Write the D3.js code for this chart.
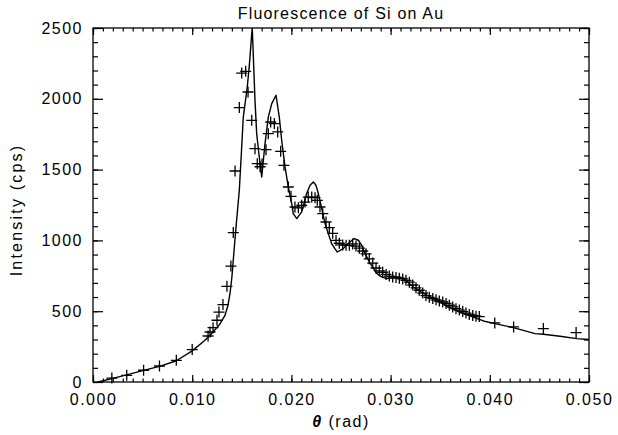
<!DOCTYPE html>
<html>
<head>
<meta charset="utf-8">
<script src="https://cdn.jsdelivr.net/npm/d3@7"></script>
<style>
body { margin: 0; background: #fff; }
text { font-family: "Liberation Sans", Arial, sans-serif; fill: #000; }
</style>
</head>
<body>
<div id="chart"></div>
<script>
// measured points (+ markers)
const thetaPts = [0.0019, 0.0034, 0.0051, 0.0067, 0.0084, 0.0100, 0.0116, 0.0118, 0.0121, 0.0125,
  0.0127, 0.0131, 0.0135, 0.0139, 0.01414, 0.01432, 0.01475, 0.01499, 0.01539, 0.01563,
  0.0160, 0.01633, 0.01656, 0.01684, 0.01704, 0.01744, 0.01767, 0.01791, 0.01828, 0.01862,
  0.01892, 0.01925, 0.01969, 0.01996, 0.02036, 0.0207, 0.02104, 0.02137, 0.0217, 0.02205,
  0.02238, 0.02261, 0.02288, 0.02316, 0.02349, 0.02382, 0.02416, 0.0245, 0.02483, 0.02517,
  0.02551, 0.02584, 0.02618, 0.02651, 0.02685, 0.02719, 0.02752, 0.02785, 0.0282, 0.02853,
  0.02886, 0.0292, 0.02954, 0.02987, 0.03021, 0.03055, 0.03088, 0.03122, 0.03155, 0.03189,
  0.03223, 0.03256, 0.03289, 0.03324, 0.03357, 0.0339, 0.03425, 0.03458, 0.03491, 0.03525,
  0.03559, 0.03592, 0.03626, 0.03659, 0.03693, 0.03727, 0.0376, 0.03793, 0.03828, 0.03861,
  0.03894, 0.0405, 0.0424, 0.0454, 0.0487];
const countsPts = [28, 47, 83, 113, 153, 229, 325, 353, 384, 436,
  494, 547, 676, 819, 1055, 1490, 1938, 2182, 2194, 2048,
  1848, 1648, 1542, 1520, 1540, 1641, 1754, 1836, 1825, 1766,
  1629, 1530, 1377, 1311, 1236, 1230, 1248, 1271, 1306, 1306,
  1302, 1283, 1236, 1189, 1130, 1090, 1050, 1000, 980, 968,
  965, 965, 975, 960, 945, 925, 905, 870, 840, 805,
  785, 775, 760, 748, 742, 738, 733, 728, 718, 705,
  685, 665, 648, 628, 610, 598, 590, 580, 572, 565,
  555, 542, 530, 518, 508, 497, 487, 477, 470, 465,
  462, 417, 389, 377, 349];

// fitted curve (solid line)
const thetaFit = [0.0005, 0.0018, 0.0034, 0.0050, 0.0068, 0.0084, 0.0100, 0.0112, 0.0120, 0.0128,
  0.0133, 0.0136, 0.0138, 0.0140, 0.01422, 0.01445, 0.01475, 0.01499, 0.01515, 0.01555,
  0.01576, 0.0160, 0.01606, 0.01633, 0.0165, 0.01676, 0.01701, 0.01734, 0.01767, 0.01802,
  0.01845, 0.01878, 0.01902, 0.01936, 0.01969, 0.02003, 0.02019, 0.02054, 0.02104, 0.02154,
  0.02188, 0.02221, 0.02248, 0.02271, 0.02306, 0.02339, 0.02372, 0.02406, 0.0244, 0.02463,
  0.02523, 0.02591, 0.02631, 0.02675, 0.02709, 0.02742, 0.02792, 0.0286, 0.0291, 0.02961,
  0.03027, 0.03095, 0.03162, 0.03229, 0.03314, 0.03397, 0.03465, 0.03566, 0.037, 0.03834,
  0.03935, 0.04053, 0.04237, 0.04338, 0.04456, 0.0454, 0.04708, 0.04876, 0.0500];
const countsFit = [0, 22, 50, 80, 112, 150, 220, 290, 345, 410,
  470, 540, 620, 740, 930, 1120, 1354, 1660, 1871, 2083,
  2236, 2460, 2490, 1989, 1754, 1589, 1448, 1684, 1871, 1966,
  2025, 1871, 1707, 1518, 1377, 1260, 1189, 1154, 1201, 1331,
  1389, 1412, 1389, 1331, 1225, 1119, 1048, 977, 940, 918,
  942, 989, 1013, 1001, 965, 907, 841, 766, 742, 730,
  736, 740, 712, 671, 633, 602, 580, 535, 494, 459,
  431, 412, 384, 365, 342, 337, 323, 306, 300];

const xTickVals = [0, 0.01, 0.02, 0.03, 0.04, 0.05];
const yTickVals = [0, 500, 1000, 1500, 2000, 2500];

const W = 618, H = 435;
const margin = { top: 28, right: 29, bottom: 53, left: 93 };
const width = W - margin.left - margin.right;
const height = H - margin.top - margin.bottom;

const svg = d3.select("#chart").append("svg")
    .attr("width", W)
    .attr("height", H);

const g = svg.append("g").attr("transform", `translate(${margin.left},${margin.top})`);

const x = d3.scaleLinear().domain([0, 0.05]).range([0, width]);
const y = d3.scaleLinear().domain([0, 2500]).range([height, 0]);

const xMinor = d3.range(0, 51).map(i => i / 1000);
const yMinor = d3.range(0, 26).map(i => i * 100);

function styleAxis(sel) {
    sel.select(".domain").remove();
    sel.selectAll("line").attr("stroke", "#000").attr("stroke-width", 1.2);
    sel.selectAll("text")
        .style("font-size", "16px")
        .style("letter-spacing", "1.5px")
        .attr("fill", "#000");
}

// minor ticks
g.append("g").attr("transform", `translate(0,${height})`)
    .call(d3.axisBottom(x).tickValues(xMinor).tickSize(-3.5).tickFormat(""))
    .call(styleAxis);
g.append("g")
    .call(d3.axisTop(x).tickValues(xMinor).tickSize(-3.5).tickFormat(""))
    .call(styleAxis);
g.append("g")
    .call(d3.axisLeft(y).tickValues(yMinor).tickSize(-5).tickFormat(""))
    .call(styleAxis);
g.append("g").attr("transform", `translate(${width},0)`)
    .call(d3.axisRight(y).tickValues(yMinor).tickSize(-5).tickFormat(""))
    .call(styleAxis);

// major ticks
g.append("g").attr("transform", `translate(0,${height})`)
    .call(d3.axisBottom(x).tickValues(xTickVals).tickSize(-7).tickPadding(12).tickFormat(d3.format(".3f")))
    .call(styleAxis);
g.append("g")
    .call(d3.axisTop(x).tickValues(xTickVals).tickSize(-7).tickFormat(""))
    .call(styleAxis);
g.append("g")
    .call(d3.axisLeft(y).tickValues(yTickVals).tickSize(-10).tickPadding(10).tickFormat(d3.format("d")))
    .call(styleAxis);
g.append("g").attr("transform", `translate(${width},0)`)
    .call(d3.axisRight(y).tickValues(yTickVals).tickSize(-10).tickFormat(""))
    .call(styleAxis);

// frame
g.append("rect")
    .attr("width", width)
    .attr("height", height)
    .attr("fill", "none")
    .attr("stroke", "#000")
    .attr("stroke-width", 1.3);

// fitted line
const line = d3.line()
    .x((d, i) => x(thetaFit[i]))
    .y((d, i) => y(countsFit[i]));

g.append("path")
    .datum(countsFit)
    .attr("fill", "none")
    .attr("stroke", "#000")
    .attr("stroke-width", 1.4)
    .attr("stroke-linejoin", "round")
    .attr("d", line);

// + markers
const ps = 5.5;
g.selectAll(".pt")
    .data(countsPts)
    .enter().append("path")
    .attr("class", "pt")
    .attr("d", (d, i) => {
        const cx = x(thetaPts[i]), cy = y(d);
        return `M${cx - ps},${cy}H${cx + ps}M${cx},${cy - ps}V${cy + ps}`;
    })
    .attr("stroke", "#000")
    .attr("stroke-width", 1.3)
    .attr("fill", "none");

// title
svg.append("text")
    .attr("x", margin.left + width / 2)
    .attr("y", 19)
    .attr("text-anchor", "middle")
    .style("font-size", "16px")
    .style("letter-spacing", "1.2px")
    .text("Fluorescence of Si on Au");

// x label
const xl = svg.append("text")
    .attr("x", margin.left + width / 2)
    .attr("y", 427)
    .attr("text-anchor", "middle")
    .style("font-size", "16px")
    .style("letter-spacing", "1.5px");
xl.append("tspan").style("font-style", "italic").style("font-weight", "bold").text("θ");
xl.append("tspan").text(" (rad)");

// y label
svg.append("text")
    .attr("transform", `translate(22,${margin.top + height / 2 + 5}) rotate(-90)`)
    .attr("text-anchor", "middle")
    .style("font-size", "16px")
    .style("letter-spacing", "2.2px")
    .text("Intensity (cps)");
</script>
</body>
</html>
